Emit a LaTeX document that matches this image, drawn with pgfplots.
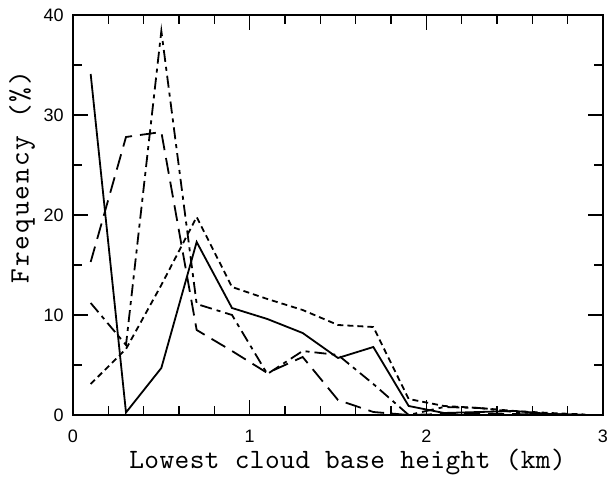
\documentclass[border=0pt]{standalone}
\usepackage{fontspec}
\usepackage{pgfplots}
\pgfplotsset{compat=1.18}
\newfontfamily\tickfont{Liberation Sans}
\newfontfamily\xlabfont{lmmono10-regular.otf}[LetterSpace=1.5]
\newfontfamily\ylabfont{lmmono10-regular.otf}[LetterSpace=7]

\begin{document}
\begin{tikzpicture}
\begin{axis}[
  scale only axis,
  width=265pt, height=200pt,
  xmin=0, xmax=3, ymin=0, ymax=40,
  xtick={0,1,2,3}, ytick={0,10,20,30,40},
  minor x tick num=4, minor y tick num=1,
  tick align=inside,
  major tick length=7.5pt, minor tick length=4.5pt,
  tick style={line width=0.7pt, black},
  axis line style={line width=0.8pt},
  /pgf/number format/assume math mode=true,
  ticklabel style={font=\fontsize{9}{10}\selectfont\tickfont, inner sep=0pt},
  xticklabel style={yshift=-7.5pt},
  yticklabel style={xshift=-4.5pt},
  xlabel={Lowest cloud base height (km)},
  ylabel={Frequency (\%)},
  xlabel style={font=\fontsize{14}{16}\selectfont\xlabfont,
    at={(axis description cs:0.518,-0.1325)}, anchor=base},
  ylabel style={font=\fontsize{14}{16}\selectfont\ylabfont,
    at={(axis description cs:-0.0962,0.595)}, anchor=center},
  every axis plot/.append style={line width=0.9pt, black, mark=none},
]
\coordinate (sw) at (rel axis cs:0,0);
\coordinate (ne) at (rel axis cs:1,1);
% all cloud types
\addplot[solid] coordinates {
  (0.1,34.1) (0.3,0.25) (0.5,4.7) (0.7,17.3) (0.9,10.7) (1.1,9.6) (1.3,8.2)
  (1.5,5.7) (1.7,6.8) (1.9,0.9) (2.1,0.2) (2.3,0.3) (2.5,0.4) (2.7,0.1) (2.9,0)
};
% short dashes
\addplot[dash pattern=on 3pt off 2pt] coordinates {
  (0.1,3.1) (0.3,6.6) (0.5,13.0) (0.7,19.8) (0.9,12.8) (1.1,11.6) (1.3,10.5)
  (1.5,9.0) (1.7,8.8) (1.9,1.6) (2.1,0.9) (2.3,0.7) (2.5,0.4) (2.7,0.2) (2.9,0.05)
};
% long dashes
\addplot[dash pattern=on 8pt off 4pt] coordinates {
  (0.1,15.3) (0.3,27.8) (0.5,28.3) (0.7,8.5) (0.9,6.4) (1.1,4.2) (1.3,5.8)
  (1.5,1.5) (1.7,0.3) (1.9,0) (2.1,0.1) (2.3,0.1) (2.5,0.1) (2.7,0) (2.9,0)
};
% dash-dot
\addplot[dash pattern=on 6pt off 2.5pt on 2pt off 2.5pt] coordinates {
  (0.1,11.2) (0.3,7.0) (0.5,38.4) (0.7,11.1) (0.9,10.0) (1.1,4.1) (1.3,6.4)
  (1.5,6.0) (1.7,3.1) (1.9,0) (2.1,0.8) (2.3,0.7) (2.5,0.3) (2.7,0.1) (2.9,0)
};
\end{axis}
% page margins around the axis
\path (sw) ++(-36.5pt,-30.5pt);
\path (ne) ++(3.5pt,7.5pt);
\end{tikzpicture}
\end{document}
